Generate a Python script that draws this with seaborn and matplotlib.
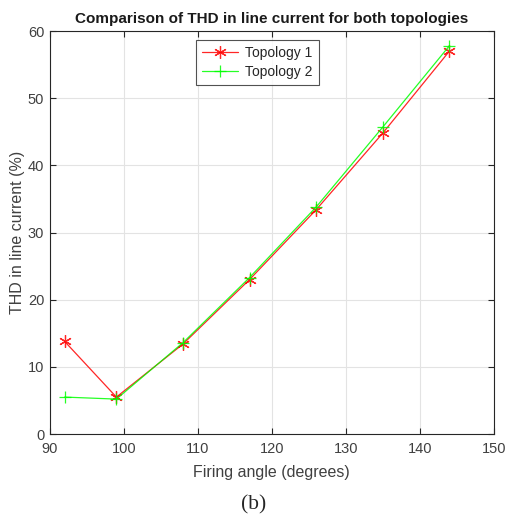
import matplotlib
matplotlib.use('Agg')
import matplotlib.pyplot as plt
import seaborn as sns
import pandas as pd

# firing angle (degrees)
angles = [92, 99, 108, 117, 126, 135, 144]
# THD in line current (%)
thd_topology1 = [13.8, 5.5, 13.4, 23.0, 33.4, 44.8, 57.0]
thd_topology2 = [5.5, 5.2, 13.6, 23.3, 33.8, 45.7, 57.8]
series_names = ['Topology 1', 'Topology 2']

df = pd.DataFrame({
    'angle': angles * 2,
    'thd': thd_topology1 + thd_topology2,
    'topology': [series_names[0]] * len(angles) + [series_names[1]] * len(angles),
})

sns.set_style('whitegrid')
plt.rcParams['font.family'] = ['Liberation Sans', 'DejaVu Sans']

fig = plt.figure(figsize=(5.08, 5.17), dpi=100)
ax = fig.add_axes([0.098, 0.1605, 0.874, 0.7795])

palette = {'Topology 1': '#ff0000', 'Topology 2': '#00ff00'}
markers = {'Topology 1': (6, 2, 0), 'Topology 2': '+'}
sns.lineplot(data=df, x='angle', y='thd', hue='topology', style='topology',
             palette=palette, markers=markers, dashes=False, markersize=9,
             linewidth=0.9, alpha=0.85, ax=ax)

# seaborn draws marker edges in white; give them the line colour
for line in ax.lines:
    line.set_markeredgecolor(line.get_color())
    line.set_markeredgewidth(0.9)

ax.set_xlim(90, 150)
ax.set_ylim(0, 60)
ax.set_xticks(range(90, 151, 10))
ax.set_yticks(range(0, 61, 10))
ax.grid(True, color='#e3e3e3', linewidth=0.8)
for spine in ax.spines.values():
    spine.set_visible(True)
    spine.set_color('#262626')
    spine.set_linewidth(0.8)
ax.tick_params(direction='in', length=4, width=0.8, colors='#262626',
               labelcolor='#404040', labelsize=10.5, top=True, right=True,
               bottom=True, left=True)
ax.tick_params(axis='x', pad=6)
ax.tick_params(axis='y', pad=4)

ax.set_xlabel('Firing angle (degrees)', fontsize=11.5, color='#404040', labelpad=6)
ax.set_ylabel('THD in line current (%)', fontsize=11.5, color='#404040', labelpad=2)
ax.set_title('Comparison of THD in line current for both topologies',
             fontsize=11, fontweight='bold', color='#1a1a1a', pad=6)

leg = ax.legend(loc='upper center', bbox_to_anchor=(0.468, 0.995),
                fontsize=10, frameon=True, fancybox=False, edgecolor='#262626',
                handlelength=2.6, handletextpad=0.5, borderpad=0.45,
                labelspacing=0.35)
leg.get_frame().set_linewidth(0.8)
for h in leg.get_lines():
    h.set_markeredgecolor(h.get_color())
    h.set_markeredgewidth(0.9)

fig.text(0.5, 0.004, '(b)', ha='center', va='bottom', fontsize=15.5,
         family='Liberation Serif')

fig.savefig('out.png', dpi=100)
